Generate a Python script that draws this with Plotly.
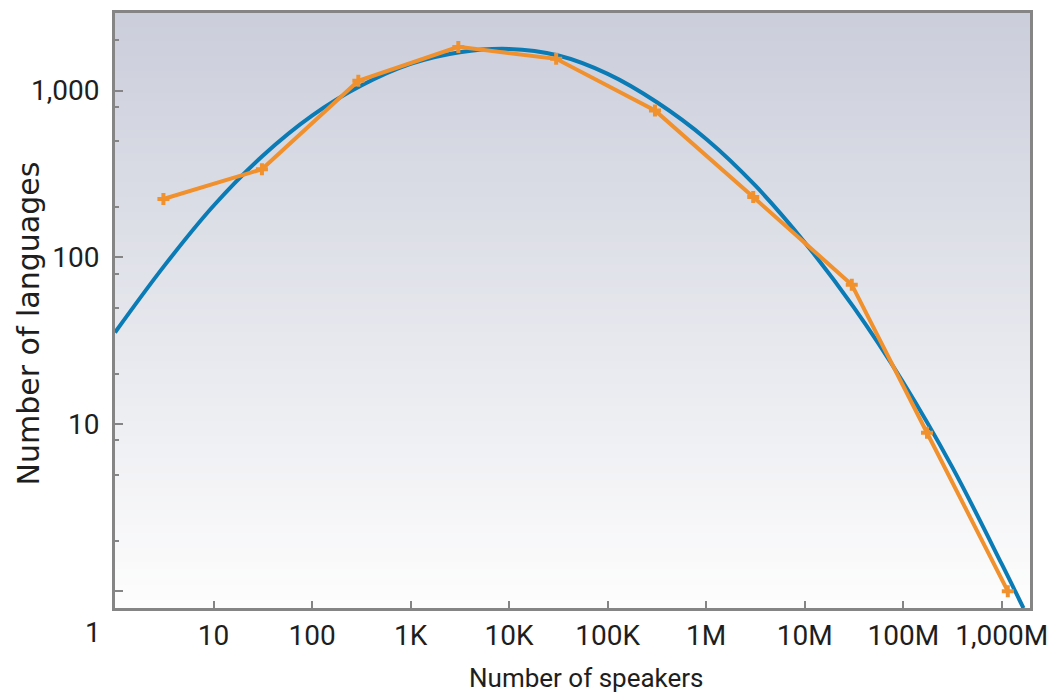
import plotly.graph_objects as go

# Observed data (orange polyline)
speakers_obs = [3.1, 31, 295, 3050, 30000, 302000, 3.0e6, 3.0e7, 1.74e8, 1.15e9]
languages_obs = [224, 338, 1145, 1828, 1550, 760, 230, 68.7, 8.9, 1.0]

# Fitted curve (blue) at half-decade steps
speakers_fit = [1.0, 3.16, 10, 31.6, 100, 316, 1000, 3160, 1e4, 31600, 1e5, 316000,
                1e6, 3.16e6, 1e7, 3.16e7, 1e8, 3.16e8, 1e9, 1.66e9]
languages_fit = [35.5, 89, 204, 407, 708, 1072, 1445, 1698, 1778, 1622, 1259, 851,
                 513, 269, 123, 50, 17.8, 5.5, 1.45, 0.79]

x_tickvals = [10, 100, 1000, 1e4, 1e5, 1e6, 1e7, 1e8, 1e9]
x_ticktext = ["10", "100", "1K", "10K", "100K", "1M", "10M", "100M", "1,000M"]
y_tickvals = [1, 10, 100, 1000]
y_ticktext = ["", "10", "100", "1,000"]
y_minor = [2, 5, 8, 20, 50, 80, 200, 500, 800, 2000]

BLUE = "#0b7bb6"
ORANGE = "#f0912d"
AXIS = "#858585"
TICKFONT = dict(family="Roboto, sans-serif", size=28, color="#1e1e1e")

fig = go.Figure()
fig.add_trace(go.Scatter(x=speakers_fit, y=languages_fit, mode="lines",
                         line=dict(color=BLUE, width=4, shape="spline", smoothing=1),
                         hoverinfo="skip", showlegend=False))
fig.add_trace(go.Scatter(x=speakers_obs, y=languages_obs, mode="lines+markers",
                         line=dict(color=ORANGE, width=4),
                         marker=dict(symbol="cross", size=10, color=ORANGE),
                         showlegend=False))

# vertical gradient background
top = (203, 206, 219)
bot = (253, 253, 253)
n = 80
shapes = []
for i in range(n):
    t = i / (n - 1)
    c = tuple(round(top[k] + (bot[k] - top[k]) * t) for k in range(3))
    shapes.append(dict(type="rect", xref="x domain", yref="y domain",
                       x0=0, x1=1, y0=1 - (i + 1) / n, y1=1 - i / n + 0.002,
                       fillcolor="rgb(%d,%d,%d)" % c, line=dict(width=0), layer="below"))

fig.update_layout(
    width=1049, height=688,
    margin=dict(l=107, r=27, t=2, b=88),
    paper_bgcolor="white", plot_bgcolor="white",
    shapes=shapes,
    xaxis=dict(type="log", range=[0, 9.286], tickmode="array",
               tickvals=x_tickvals, ticktext=x_ticktext,
               ticks="inside", ticklen=7, tickwidth=2, tickcolor=AXIS,
               showline=True, linecolor=AXIS, linewidth=3, mirror=True,
               showgrid=False, zeroline=False, tickfont=TICKFONT,
               ticklabelstandoff=0),
    yaxis=dict(type="log", range=[-0.101, 3.465], tickmode="array",
               tickvals=y_tickvals, ticktext=y_ticktext,
               ticks="inside", ticklen=8, tickwidth=2, tickcolor=AXIS,
               minor=dict(tickmode="array", tickvals=y_minor, ticks="inside",
                          ticklen=4, tickwidth=2, tickcolor=AXIS, showgrid=False),
               showline=True, linecolor=AXIS, linewidth=3, mirror=True,
               showgrid=False, zeroline=False, tickfont=TICKFONT,
               ticklabelstandoff=7),
    annotations=[
        dict(text="1", xref="x", yref="paper", x=0, y=0, xshift=-22, yshift=-24,
             xanchor="center", yanchor="middle", showarrow=False, font=TICKFONT),
        dict(text="Number of speakers", xref="paper", yref="paper", x=0.5, y=0,
             xshift=14, yshift=-70, xanchor="center", yanchor="middle", showarrow=False,
             font=dict(family="Roboto, sans-serif", size=26, color="#1e1e1e")),
        dict(text="Number of languages", xref="paper", yref="paper", x=0, y=0.5,
             xshift=-87, yshift=-13, textangle=-90, xanchor="center", yanchor="middle",
             showarrow=False,
             font=dict(family="DejaVu Sans", size=30, color="#1e1e1e")),
    ],
)

fig.write_html("out.html")
